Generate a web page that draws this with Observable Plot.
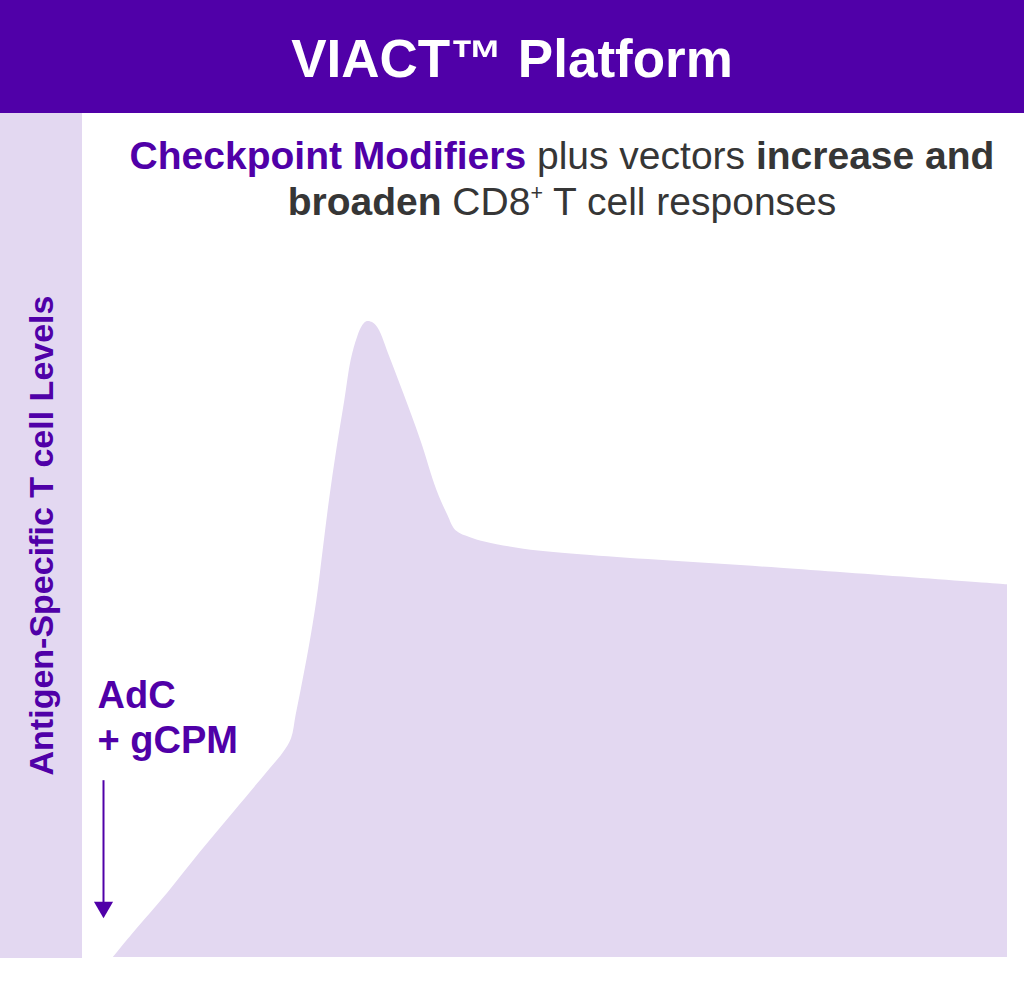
<!DOCTYPE html>
<html>
<head>
<meta charset="utf-8">
<script src="https://cdn.jsdelivr.net/npm/d3@7"></script>
<script src="https://cdn.jsdelivr.net/npm/@observablehq/plot@0.6"></script>
<style>
  html, body { margin: 0; padding: 0; background: #ffffff; }
  body { width: 1024px; height: 995px; overflow: hidden; font-family: "Liberation Sans", Arial, Helvetica, sans-serif; }
  #header { height: 113px; background: #5000a8; color: #ffffff; text-align: center; font-weight: bold; font-size: 53px; line-height: 117px; white-space: nowrap; }
  #main { position: relative; width: 1024px; height: 882px; }
  #strip { position: absolute; left: 0; top: 0; width: 82px; height: 845px; background: #e3d8f1; }
  #sub { position: absolute; left: 100px; width: 924px; top: 20px; text-align: center; font-size: 39px; line-height: 46px; color: #363636; white-space: nowrap; }
  #sub .hl { color: #5000a8; font-weight: bold; }
  #sub b { font-weight: bold; }
  #sub .sup { font-size: 0.55em; position: relative; top: -0.7em; }
  #chart { position: absolute; left: 0; top: 0; }
</style>
</head>
<body>
<div id="header">VIACT™ Platform</div>
<div id="main">
  <div id="strip"></div>
  <div id="chart"></div>
  <div id="sub"><span class="hl">Checkpoint Modifiers</span> plus vectors <b>increase and</b><br><b>broaden</b> CD8<span class="sup">+</span> T cell responses</div>
</div>
<script>
// Response curve: time (arbitrary units) vs antigen-specific T cell level (arbitrary units)
const time  = [1.1, 3.3, 7.1, 10.7, 14.4, 18.1, 19.9, 20.8, 21.3, 21.9, 22.7, 23.6, 24.3, 25.0, 25.8, 26.7, 27.4, 28.1, 28.7, 29.2, 29.8, 30.4, 31.7, 33.2, 35.1, 36.9, 38.1, 39.0, 40.6, 42.3, 46.5, 53.9, 74.9, 100];
const level = [0,   3.8, 10.1, 16.5, 22.8, 29.1, 32.2, 34.4, 38.0, 42.3, 48.3, 56.1, 64.0, 71.9, 79.7, 87.6, 93.9, 97.5, 99.4, 100,  99.8, 98.9, 94.3, 88.7, 81.3, 73.4, 69.5, 67.1, 66.0, 65.3, 64.2, 63.2, 61.2, 58.6];

// Dose annotation
const doseLabel = "AdC\n+ gCPM";
const doseTime = 0;
const doseLabelX = -0.66;
const doseLabelY = 32.2;
const arrowTop = 27.8;
const arrowBottom = 8.6;
const arrowHeadY = 7.9;

const yLabel = "Antigen-Specific T cell Levels";

const data = time.map((t, i) => ({time: t, level: level[i]}));

const purple = "#5000a8";
const lavender = "#e3d8f1";

const chart = Plot.plot({
  width: 1024,
  height: 882,
  marginLeft: 103,
  marginRight: 17,
  marginTop: 208,
  marginBottom: 38,
  x: {domain: [0, 100], axis: null},
  y: {domain: [0, 100], axis: null},
  style: {background: "transparent", fontFamily: "'Liberation Sans', Arial, sans-serif", overflow: "visible"},
  marks: [
    Plot.areaY(data, {x: "time", y: "level", fill: lavender, curve: "catmull-rom"}),
    Plot.ruleX([doseTime], {y1: arrowBottom, y2: arrowTop, stroke: purple, strokeWidth: 2}),
    Plot.dot([doseTime], {x: d => d, y: () => arrowHeadY, symbol: "triangle", r: 7.1, fill: purple, stroke: "none", rotate: 180}),
    Plot.text([doseLabel], {x: () => doseLabelX, y: () => doseLabelY, text: d => d, textAnchor: "start", lineAnchor: "bottom", lineHeight: 1.18, fontSize: 38, fontWeight: "bold", fill: purple}),
    Plot.text([yLabel], {frameAnchor: "left", text: d => d, rotate: -90, dx: -61, dy: -104, fontSize: 34, fontWeight: "bold", fill: purple, textAnchor: "middle", lineAnchor: "middle"})
  ]
});
document.getElementById("chart").appendChild(chart);
</script>
</body>
</html>
